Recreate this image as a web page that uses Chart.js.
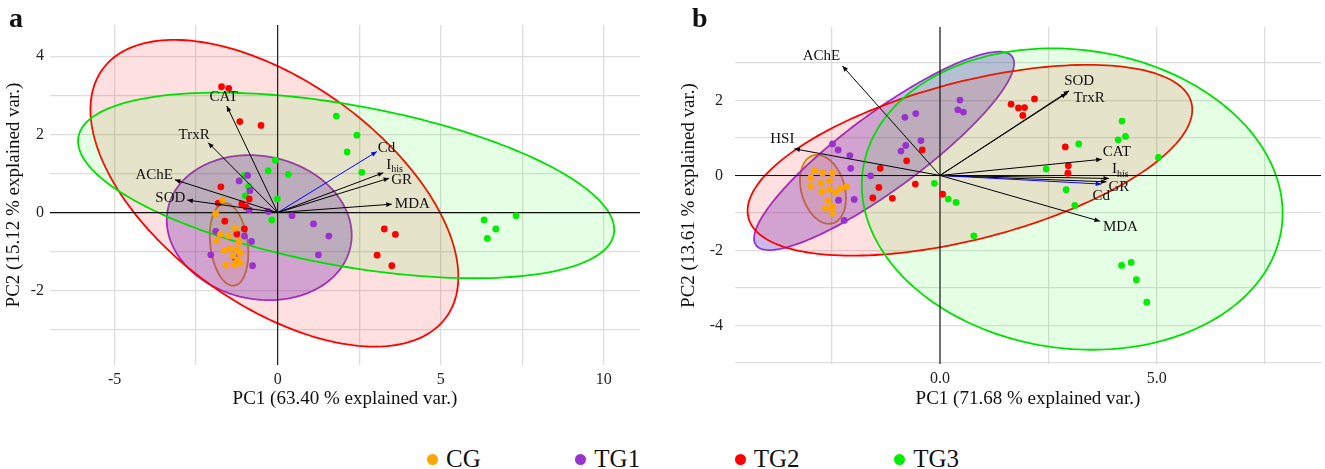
<!DOCTYPE html>
<html>
<head>
<meta charset="utf-8">
<script src="https://cdn.jsdelivr.net/npm/chart.js@4.4.1/dist/chart.umd.min.js"></script>
<style>
  body { margin: 0; width: 1325px; height: 469px; background: #fff; position: relative; overflow: hidden; font-family: "Liberation Serif", serif; }
  #wrapA { position: absolute; left: 0; top: 0; }
  #wrapB { position: absolute; left: 660px; top: 0; }
  .tag { position: absolute; top: 4px; font-weight: bold; font-size: 28px; line-height: 28px; color: #111; }
  #legend { position: absolute; top: 447px; left: 427px; width: 532px; display: flex; justify-content: space-between; font-size: 25px; line-height: 24px; color: #111; }
  #legend .item { display: flex; align-items: center; gap: 8px; }
  #legend .dot { width: 11px; height: 11px; border-radius: 50%; display: inline-block; }
</style>
</head>
<body>
<div id="wrapA"><canvas id="pcaA" width="660" height="420"></canvas></div>
<div id="wrapB"><canvas id="pcaB" width="665" height="420"></canvas></div>
<div class="tag" style="left:9px">a</div>
<div class="tag" style="left:692px">b</div>
<div id="legend"></div>
<script>
// groups
const groups = ['CG', 'TG1', 'TG2', 'TG3'];
const groupColors = ['#FFA500', '#9932CC', '#FF0000', '#00EE00'];
const ellipseLines = ['#D8900C', '#9932CC', '#FF0000', '#00E000'];
const groupFills = ['rgba(255,165,0,0.15)', 'rgba(110,60,205,0.36)', 'rgba(255,0,0,0.12)', 'rgba(0,255,0,0.1)'];

// panel a : PC scores [PC1, PC2]
const cgA = [[-1.69,0.32],[-1.90,-0.03],[-1.30,-0.40],[-1.50,-0.59],[-1.75,-0.55],[-1.87,-0.72],[-1.18,-0.74],[-1.46,-0.92],
             [-1.64,-0.97],[-1.23,-0.94],[-1.37,-1.10],[-1.15,-1.04],[-1.23,-1.21],[-1.59,-1.34],[-1.33,-1.34],[-1.16,-1.29]];
const tg1A = [[-1.18,0.81],[-0.92,0.95],[-0.85,0.56],[-0.87,0.07],[-0.29,0.03],[-1.90,-0.48],[-1.02,-0.60],[-0.80,-0.74],
              [-2.05,-1.08],[-1.31,-1.15],[-0.77,-1.36],[0.44,-0.08],[1.10,-0.29],[1.57,-0.60],[1.25,-1.08]];
const tg2A = [[-1.72,3.22],[-1.50,3.18],[-1.16,2.33],[-0.51,2.23],[-1.74,0.66],[-1.82,0.24],[-0.87,0.35],[-1.10,0.22],
              [-0.97,0.14],[-1.62,-0.22],[-1.02,-0.42],[-1.25,-0.55],[3.27,-0.42],[3.61,-0.56],[3.05,-1.09],[3.50,-1.36]];
const tg3A = [[1.80,2.47],[2.43,1.98],[2.13,1.55],[2.58,1.03],[-0.07,1.34],[0.33,0.98],[-0.01,0.35],[-0.18,-0.19],
              [6.33,-0.19],[7.31,-0.08],[6.69,-0.42],[6.43,-0.66],[-1.02,0.95],[-0.29,1.07],[-0.89,0.67],[-0.99,0.43]];
// panel a : loadings
const varsA = ['CAT', 'TrxR', 'AChE', 'SOD', 'Cd', 'I_his', 'GR', 'MDA'];
const loadAx = [-1.56, -2.13, -3.15, -2.77, 3.04, 3.24, 3.42, 3.50];
const loadAy = [2.73, 1.79, 0.84, 0.32, 1.56, 1.02, 0.88, 0.215];
// panel a : group ellipses [cx, cy, halfX, halfY, phase deg]
const ellA = [[-1.49,-0.815,0.59,1.055,102],[-0.565,-0.385,2.835,1.855,96],[-0.10,0.495,5.64,3.925,123],[2.10,0.695,8.22,2.375,118.5]];

// panel b : PC scores
const cgB = [[-2.89,0.13],[-2.71,0.06],[-2.48,0.06],[-2.98,-0.06],[-2.75,-0.21],[-2.55,-0.14],[-2.98,-0.28],[-2.73,-0.43],
             [-2.55,-0.37],[-2.41,-0.46],[-2.29,-0.35],[-2.15,-0.30],[-2.59,-0.67],[-2.48,-0.83],[-2.64,-0.88],[-2.48,-1.01]];
const tg1B = [[-2.48,0.84],[-2.35,0.68],[-2.08,0.53],[-2.06,0.19],[-1.60,-0.01],[-2.34,-0.66],[-1.98,-0.64],[-2.21,-1.20],
              [-0.81,1.55],[-0.56,1.65],[-0.44,0.93],[-0.79,0.80],[-0.90,0.65],[0.46,2.01],[0.41,1.75],[0.54,1.69]];
const tg2B = [[-1.38,0.19],[-1.41,-0.32],[-1.55,-0.60],[-1.10,-0.61],[-0.57,-0.23],[-0.41,0.68],[-0.77,0.39],[0.06,-0.50],
              [1.64,1.90],[1.81,1.80],[1.95,1.81],[1.91,1.60],[2.18,2.04],[2.89,0.76],[2.96,0.26],[2.95,0.06]];
const tg3B = [[-0.13,-0.21],[0.19,-0.63],[0.37,-0.72],[0.78,-1.61],[2.45,0.17],[2.91,-0.38],[3.11,-0.80],[3.20,0.84],
              [4.11,0.95],[4.28,1.04],[4.20,1.45],[5.04,0.48],[4.19,-2.40],[4.41,-2.32],[4.53,-2.78],[4.77,-3.38]];
const varsB = ['AChE', 'HSI', 'SOD', 'TrxR', 'CAT', 'I_his', 'GR', 'Cd', 'MDA'];
const loadBx = [-2.25, -3.36, 2.98, 2.92, 3.73, 3.90, 3.84, 3.72, 3.69];
const loadBy = [2.92, 0.71, 2.26, 2.19, 0.43, -0.08, -0.17, -0.23, -1.22];
const ellB = [[-2.70,-0.37,0.53,0.92,105],[-1.29,0.655,3.0,2.645,28],[0.69,0.405,5.13,2.545,58],[3.05,-0.63,4.855,4.02,95.4]];

// label placement next to arrow tips [align, dx px, dy px]
const labelPosA = [['center',-3,-9],['center',-14,-8],['right',-2,-5],['right',-2,-2],['left',1,-4],['left',3,-8],['left',2,2],['left',3,0]];
const labelPosB = [['center',-21,-10],['right',0,-10],['left',-5,-10],['left',7,5],['left',1,-7],['left',3,-9],['left',2,5],['center',0,12],['left',3,6]];

const FONT = '"Liberation Serif", "Times New Roman", serif';

function drawLabel(ctx, name, px, py, align) {
    const parts = name.split('_');
    ctx.font = '15px ' + FONT;
    const w1 = ctx.measureText(parts[0]).width;
    ctx.font = '10px ' + FONT;
    const w2 = parts[1] ? ctx.measureText(parts[1]).width : 0;
    const w = w1 + w2;
    const left = align === 'left' ? px : align === 'right' ? px - w : px - w / 2;
    ctx.fillStyle = '#111';
    ctx.textAlign = 'left';
    ctx.textBaseline = 'middle';
    ctx.font = '15px ' + FONT;
    ctx.fillText(parts[0], left, py);
    if (parts[1]) {
        ctx.font = '10px ' + FONT;
        ctx.fillText(parts[1], left + w1, py + 5);
    }
}

function makeLayers(ells, vars, lx, ly, labelPos) {
    return {
        id: 'biplotLayers',
        beforeDatasetsDraw(chart) {
            const { ctx, chartArea: a, scales: { x, y } } = chart;
            ctx.save();
            ctx.beginPath();
            ctx.rect(a.left, a.top, a.width, a.height);
            ctx.clip();
            // ellipses
            ells.forEach((e, i) => {
                const ph = e[4] * Math.PI / 180;
                ctx.beginPath();
                for (let k = 0; k <= 200; k++) {
                    const t = k / 200 * 2 * Math.PI;
                    const px = x.getPixelForValue(e[0] + e[2] * Math.cos(t));
                    const py = y.getPixelForValue(e[1] + e[3] * Math.cos(t + ph));
                    if (k === 0) ctx.moveTo(px, py); else ctx.lineTo(px, py);
                }
                ctx.closePath();
                ctx.fillStyle = groupFills[i];
                ctx.fill();
                ctx.strokeStyle = ellipseLines[i];
                ctx.lineWidth = 1.8;
                ctx.stroke();
            });
            // zero lines
            const x0 = x.getPixelForValue(0), y0 = y.getPixelForValue(0);
            ctx.strokeStyle = '#111';
            ctx.lineWidth = 1.1;
            ctx.beginPath();
            ctx.moveTo(a.left, y0); ctx.lineTo(a.right, y0);
            ctx.moveTo(x0, a.top); ctx.lineTo(x0, a.bottom);
            ctx.stroke();
            ctx.restore();
        },
        afterDatasetsDraw(chart) {
            const { ctx, scales: { x, y } } = chart;
            const x0 = x.getPixelForValue(0), y0 = y.getPixelForValue(0);
            ctx.save();
            vars.forEach((name, i) => {
                const tx = x.getPixelForValue(lx[i]), ty = y.getPixelForValue(ly[i]);
                const col = name === 'Cd' ? '#0000FF' : '#000';
                const ang = Math.atan2(ty - y0, tx - x0);
                ctx.strokeStyle = col;
                ctx.fillStyle = col;
                ctx.lineWidth = 1;
                ctx.beginPath();
                ctx.moveTo(x0, y0);
                ctx.lineTo(tx, ty);
                ctx.stroke();
                const hl = 6, hw = 0.4;
                ctx.beginPath();
                ctx.moveTo(tx, ty);
                ctx.lineTo(tx - hl * Math.cos(ang - hw), ty - hl * Math.sin(ang - hw));
                ctx.lineTo(tx - hl * Math.cos(ang + hw), ty - hl * Math.sin(ang + hw));
                ctx.closePath();
                ctx.fill();
                const lp = labelPos[i];
                drawLabel(ctx, name, tx + lp[1], ty + lp[2], lp[0]);
            });
            ctx.restore();
        }
    };
}

function toXY(arr) {
    return arr.map(p => ({ x: p[0], y: p[1] }));
}

function makeChart(id, cfg) {
    const tickFont = { family: FONT, size: 16 };
    const titleFont = { family: FONT, size: 19 };
    return new Chart(document.getElementById(id), {
        type: 'scatter',
        data: {
            datasets: cfg.points.map((pts, i) => ({
                label: groups[i],
                data: toXY(pts),
                backgroundColor: groupColors[i],
                borderWidth: 0,
                pointRadius: 3.4,
                pointHoverRadius: 3.4
            }))
        },
        options: {
            responsive: false,
            animation: false,
            layout: { padding: { top: cfg.top, right: cfg.right, left: 0, bottom: 0 } },
            plugins: { legend: { display: false }, tooltip: { enabled: false } },
            scales: {
                x: {
                    type: 'linear',
                    min: cfg.xmin, max: cfg.xmax,
                    grid: { color: '#DDDDDD', lineWidth: 1.3, drawTicks: false },
                    border: { display: false },
                    ticks: {
                        stepSize: 2.5, includeBounds: false, autoSkip: false, maxRotation: 0, padding: 5,
                        color: '#222', font: tickFont,
                        callback: v => Math.abs(v % 5) < 1e-9 ? (cfg.decimals ? v.toFixed(1) : String(v)) : ''
                    },
                    title: { display: true, text: cfg.xTitle, color: '#111', font: titleFont, padding: { top: 0, bottom: 10 } },
                    afterFit: s => { s.height = 420 - cfg.bottom; }
                },
                y: {
                    type: 'linear',
                    min: cfg.ymin, max: cfg.ymax,
                    grid: { color: '#DDDDDD', lineWidth: 1.3, drawTicks: false },
                    border: { display: false },
                    ticks: {
                        stepSize: 1, includeBounds: false, autoSkip: false, padding: cfg.yPad,
                        color: '#222', font: tickFont,
                        callback: v => Math.abs(v % 2) < 1e-9 ? String(v) : ''
                    },
                    title: { display: true, text: cfg.yTitle, color: '#111', font: titleFont, padding: { top: cfg.yTitlePad, bottom: 0 } },
                    afterFit: s => { s.width = cfg.left; }
                }
            }
        },
        plugins: [makeLayers(cfg.ells, cfg.vars, cfg.lx, cfg.ly, cfg.labels)]
    });
}

makeChart('pcaA', {
    points: [cgA, tg1A, tg2A, tg3A], ells: ellA, vars: varsA, lx: loadAx, ly: loadAy, labels: labelPosA,
    xmin: -6.98, xmax: 11.11, ymin: -3.90, ymax: 4.80,
    left: 50, right: 20, top: 25, bottom: 365, yPad: 6, yTitlePad: 3, decimals: false,
    xTitle: 'PC1 (63.40 % explained var.)', yTitle: 'PC2 (15.12 % explained var.)'
});

makeChart('pcaB', {
    points: [cgB, tg1B, tg2B, tg3B], ells: ellB, vars: varsB, lx: loadBx, ly: loadBy, labels: labelPosB,
    xmin: -4.73, xmax: 8.79, ymin: -5.03, ymax: 3.96,
    left: 75, right: 4, top: 27, bottom: 364, yPad: 12, yTitlePad: 18, decimals: true,
    xTitle: 'PC1 (71.68 % explained var.)', yTitle: 'PC2 (13.61 % explained var.)'
});

// shared legend
const legend = document.getElementById('legend');
groups.forEach((g, i) => {
    const item = document.createElement('div');
    item.className = 'item';
    item.innerHTML = '<span class="dot" style="background:' + groupColors[i] + '"></span><span>' + g + '</span>';
    legend.appendChild(item);
});
</script>
</body>
</html>
